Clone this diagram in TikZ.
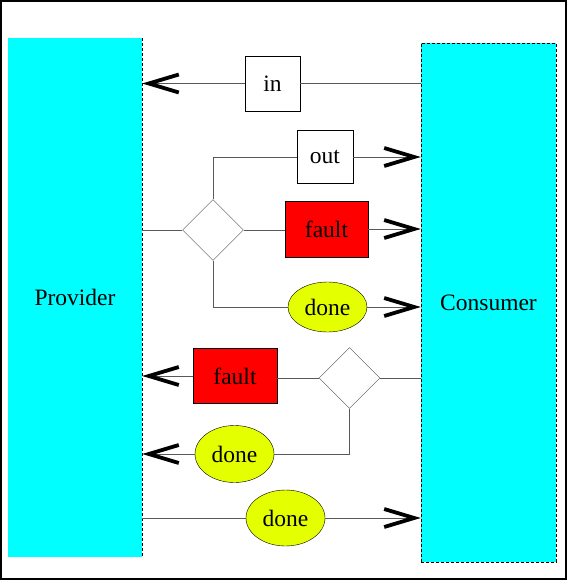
\documentclass[tikz,border=0pt]{standalone}
\usepackage{fontspec}
\setmainfont{Liberation Serif}
\usetikzlibrary{shapes.geometric, arrows.meta}
\usetikzlibrary{positioning}
\definecolor{partner}{RGB}{0,255,255}
\definecolor{donefill}{RGB}{228,255,0}
\tikzstyle{partner} = [rectangle, fill=partner, inner sep=0pt, font=\fontsize{23.5}{27}\selectfont]
\tikzstyle{msgbox} = [rectangle, draw=black, fill=white, inner sep=0pt, font=\fontsize{23.5}{27}\selectfont]
\tikzstyle{faultbox} = [msgbox, fill=red]
\tikzstyle{donebox} = [ellipse, draw=black, fill=donefill, inner sep=0pt, minimum width=79pt, font=\fontsize{23.5}{27}\selectfont]
\tikzstyle{choice} = [diamond, draw=black!70, fill=white, inner sep=0pt, minimum width=61pt, minimum height=61pt]
\tikzstyle{wire} = [black!65, line width=0.9pt]
\tikzstyle{message} = [wire, -{Straight Barb[length=30pt, width=18pt, line width=3.8pt, color=black]}]

\begin{document}
\begin{tikzpicture}[x=1pt, y=-1pt]

    \useasboundingbox (0,0) rectangle (567,580);
    \draw [line width=1.2pt] (1,1) rectangle (566,579);

    % the two partners
    \node (provider) [partner, minimum width=134pt, minimum height=519pt] at (75,297.5) {Provider};
    \draw [dash pattern=on 3pt off 2pt] (provider.north east) -- (provider.south east);
    \node (consumer) [partner, draw=black, dash pattern=on 3pt off 2pt, minimum width=135pt, minimum height=519pt] at (488.5,302.5) {Consumer};

    % messages
    \node (in) [msgbox, minimum width=55pt, minimum height=55pt] at (272.5,83.5) {in};
    \node (choice1) [choice] at (213,230) {};
    \node (out) [msgbox, minimum width=56pt, minimum height=53pt] at (325,157) {out};
    \node (fault1) [faultbox, minimum width=83pt, minimum height=56pt] at (326.5,229) {fault};
    \node (done1) [donebox, minimum height=50pt] at (327.5,307) {done};

    \node (choice2) [choice] at (349.5,378) {};
    \node (fault2) [faultbox, minimum width=84pt, minimum height=55pt] at (235,376) {fault};
    \node (done2) [donebox, minimum height=57pt] at (234.5,454) {done};
    \node (done3) [donebox, minimum height=56pt] at (285.5,518) {done};

    % in
    \draw [wire] (consumer.west |- in.east) -- (in.east);
    \draw [message] (in.west) -- (in.west -| provider.east);

    % out, fault, done
    \draw [wire] (provider.east |- choice1.west) -- (choice1.west);
    \draw [wire] (choice1.north) |- (out.west);
    \draw [wire] (choice1.east) -- (choice1.east -| fault1.west);
    \draw [wire] (choice1.south) |- (done1.west);
    \draw [message] (out.east) -- (out.east -| consumer.west);
    \draw [message] (fault1.east) -- (fault1.east -| consumer.west);
    \draw [message] (done1.east) -- (done1.east -| consumer.west);

    % fault, done back
    \draw [wire] (consumer.west |- choice2.east) -- (choice2.east);
    \draw [wire] (choice2.west) -- (choice2.west -| fault2.east);
    \draw [wire] (choice2.south) |- (done2.east);
    \draw [message] (fault2.west) -- (fault2.west -| provider.east);
    \draw [message] (done2.west) -- (done2.west -| provider.east);

    % last done
    \draw [wire] (provider.east |- done3.west) -- (done3.west);
    \draw [message] (done3.east) -- (done3.east -| consumer.west);

\end{tikzpicture}
\end{document}
